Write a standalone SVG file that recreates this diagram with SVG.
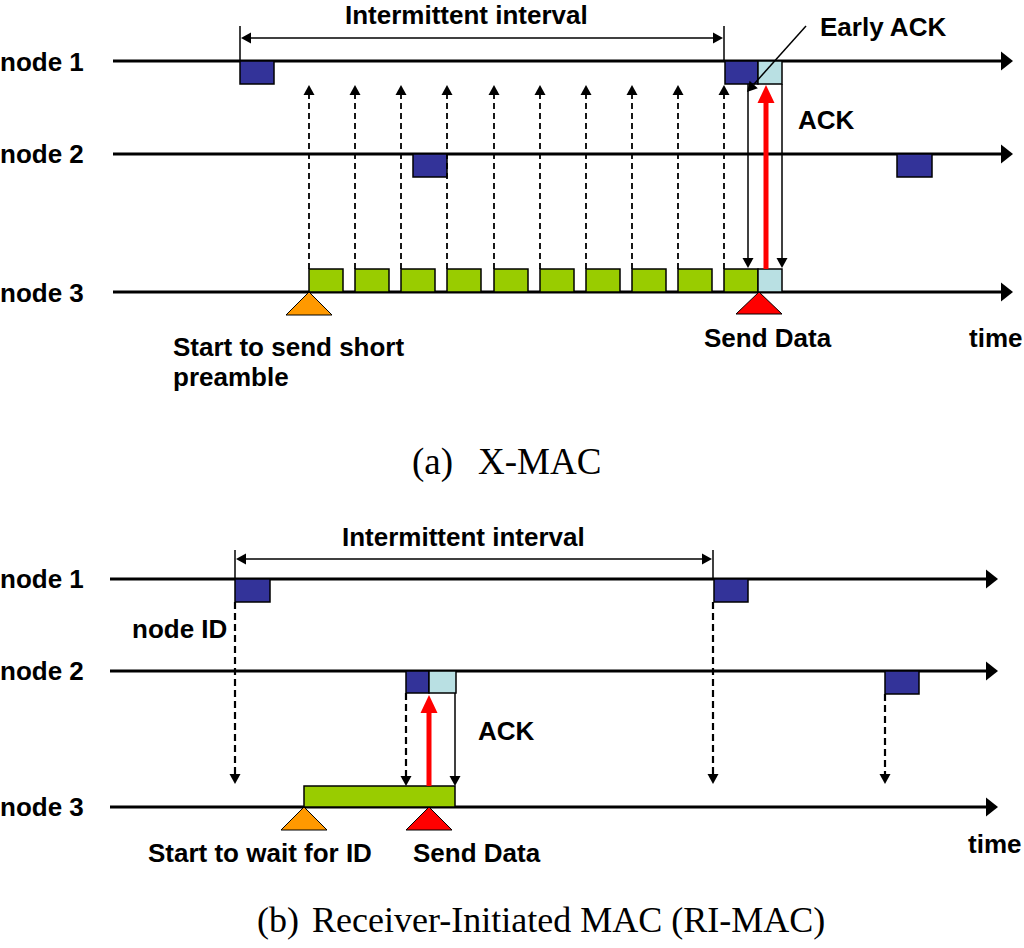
<svg xmlns="http://www.w3.org/2000/svg" width="1024" height="948" viewBox="0 0 1024 948">
<style>
.lbl{font-family:"Liberation Sans",Arial,sans-serif;font-weight:bold;font-size:26px;fill:#000}
.cap{font-family:"Liberation Serif","Times New Roman",serif;font-size:37px;fill:#000}
.capb{font-family:"Liberation Serif","Times New Roman",serif;font-size:36px;fill:#000}
.tl{stroke:#000;stroke-width:3.2;fill:none}
.thin{stroke:#000;stroke-width:1.5;fill:none}
.dash{stroke:#000;stroke-width:1.8;fill:none;stroke-dasharray:6,4}
.dashb{stroke:#000;stroke-width:2.2;fill:none;stroke-dasharray:7,4}
.red{stroke:#ff0000;stroke-width:5;fill:none}
.blue{fill:#333399;stroke:#000;stroke-width:1.5}
.lb{fill:#b9e0e3;stroke:#000;stroke-width:1.5}
.grn{fill:#99cc00;stroke:#000;stroke-width:1.5}
.org{fill:#ff9900;stroke:#000;stroke-width:1}
.rtri{fill:#ff0000;stroke:#000;stroke-width:1}
</style>
<defs>
<marker id="big" markerUnits="userSpaceOnUse" markerWidth="12" markerHeight="19" refX="0" refY="9.5" orient="auto" overflow="visible"><path d="M0,0 L12,9.5 L0,19 z" fill="#000"/></marker>
<marker id="sm" markerUnits="userSpaceOnUse" markerWidth="10" markerHeight="11" refX="0" refY="5.5" orient="auto-start-reverse" overflow="visible"><path d="M0,0 L10,5.5 L0,11 z" fill="#000"/></marker>
</defs>

<!-- (a) X-MAC -->
<g id="a-node1">
<text class="lbl" x="0" y="71">node 1</text>
<line class="tl" x1="113" y1="61" x2="1001" y2="61" marker-end="url(#big)"/>
<rect class="blue" x="240" y="61" width="34" height="23"/>
<rect class="blue" x="725" y="61" width="33" height="23"/>
<rect class="lb" x="758" y="61" width="24" height="23"/>
</g>
<g id="a-node2">
<text class="lbl" x="0" y="163">node 2</text>
<line class="tl" x1="113" y1="154" x2="1001" y2="154" marker-end="url(#big)"/>
<rect class="blue" x="413" y="154" width="34" height="23"/>
<rect class="blue" x="897" y="154" width="35" height="23"/>
</g>
<g id="a-node3">
<text class="lbl" x="0" y="302">node 3</text>
<line class="tl" x1="113" y1="292" x2="1001" y2="292" marker-end="url(#big)"/>
<rect class="grn" x="309" y="269" width="34" height="23"/>
<rect class="grn" x="355" y="269" width="34" height="23"/>
<rect class="grn" x="401" y="269" width="34" height="23"/>
<rect class="grn" x="447" y="269" width="34" height="23"/>
<rect class="grn" x="494" y="269" width="34" height="23"/>
<rect class="grn" x="540" y="269" width="34" height="23"/>
<rect class="grn" x="586" y="269" width="34" height="23"/>
<rect class="grn" x="632" y="269" width="34" height="23"/>
<rect class="grn" x="678" y="269" width="34" height="23"/>
<rect class="grn" x="724" y="269" width="34" height="23"/>
<rect class="lb" x="758" y="269" width="24" height="23"/>
<polygon class="org" points="309,292 286,315 332,315"/>
<polygon class="rtri" points="759,292 736,314 782,314"/>
</g>
<g id="a-labels">
<text class="lbl" x="345" y="24">Intermittent interval</text>
<text class="lbl" x="820" y="36">Early ACK</text>
<text class="lbl" x="798" y="129">ACK</text>
<text class="lbl" x="704" y="347">Send Data</text>
<text class="lbl" x="969" y="347">time</text>
<text class="lbl" x="173" y="356">Start to send short</text>
<text class="lbl" x="173" y="386">preamble</text>
<text class="cap" x="412" y="474">(a) <tspan x="478">X-MAC</tspan></text>
</g>
<g id="a-connectors">
<line class="thin" x1="240" y1="26" x2="240" y2="61"/>
<line class="thin" x1="724" y1="26" x2="724" y2="61"/>
<line class="thin" x1="251" y1="38" x2="713" y2="38" marker-start="url(#sm)" marker-end="url(#sm)"/>
<line class="dash" x1="309" y1="269" x2="309" y2="95" marker-end="url(#sm)"/>
<line class="dash" x1="355" y1="269" x2="355" y2="95" marker-end="url(#sm)"/>
<line class="dash" x1="401" y1="269" x2="401" y2="95" marker-end="url(#sm)"/>
<line class="dash" x1="447" y1="269" x2="447" y2="95" marker-end="url(#sm)"/>
<line class="dash" x1="494" y1="269" x2="494" y2="95" marker-end="url(#sm)"/>
<line class="dash" x1="540" y1="269" x2="540" y2="95" marker-end="url(#sm)"/>
<line class="dash" x1="586" y1="269" x2="586" y2="95" marker-end="url(#sm)"/>
<line class="dash" x1="632" y1="269" x2="632" y2="95" marker-end="url(#sm)"/>
<line class="dash" x1="678" y1="269" x2="678" y2="95" marker-end="url(#sm)"/>
<line class="dash" x1="724" y1="269" x2="724" y2="95" marker-end="url(#sm)"/>
<line class="thin" x1="748" y1="84" x2="748" y2="258" marker-end="url(#sm)"/>
<line class="thin" x1="782" y1="84" x2="782" y2="258" marker-end="url(#sm)"/>
<line class="red" x1="766" y1="269" x2="766" y2="102"/>
<polygon points="757.5,103 766,85 774.5,103" fill="#ff0000"/>
<line class="thin" x1="806" y1="26" x2="753.7" y2="84.5" marker-end="url(#sm)"/>
</g>

<!-- (b) RI-MAC -->
<g id="b-node1">
<text class="lbl" x="0" y="588">node 1</text>
<line class="tl" x1="110" y1="579" x2="986" y2="579" marker-end="url(#big)"/>
<rect class="blue" x="235" y="579" width="35" height="23"/>
<rect class="blue" x="714" y="579" width="34" height="23"/>
</g>
<g id="b-node2">
<text class="lbl" x="0" y="680">node 2</text>
<line class="tl" x1="110" y1="671" x2="986" y2="671" marker-end="url(#big)"/>
<rect class="blue" x="406" y="671" width="23" height="22"/>
<rect class="lb" x="429" y="671" width="27" height="22"/>
<rect class="blue" x="885" y="671" width="34" height="23"/>
</g>
<g id="b-node3">
<text class="lbl" x="0" y="816">node 3</text>
<line class="tl" x1="110" y1="807" x2="986" y2="807" marker-end="url(#big)"/>
<rect class="grn" x="304" y="786" width="151" height="21"/>
<polygon class="org" points="304,807 281,830 327,830"/>
<polygon class="rtri" points="429,807 406,830 452,830"/>
</g>
<g id="b-labels">
<text class="lbl" x="342" y="546">Intermittent interval</text>
<text class="lbl" x="132" y="638">node ID</text>
<text class="lbl" x="478" y="740">ACK</text>
<text class="lbl" x="148" y="862">Start to wait for ID</text>
<text class="lbl" x="413" y="862">Send Data</text>
<text class="lbl" x="968" y="853">time</text>
<text class="capb" x="257" y="932">(b) <tspan x="312">Receiver-Initiated MAC (RI-MAC)</tspan></text>
</g>
<g id="b-connectors">
<line class="thin" x1="235" y1="550" x2="235" y2="579"/>
<line class="thin" x1="713" y1="550" x2="713" y2="579"/>
<line class="thin" x1="246" y1="559" x2="702" y2="559" marker-start="url(#sm)" marker-end="url(#sm)"/>
<line class="dashb" x1="235" y1="602" x2="235" y2="774" marker-end="url(#sm)"/>
<line class="dashb" x1="713" y1="602" x2="713" y2="774" marker-end="url(#sm)"/>
<line class="dashb" x1="885" y1="694" x2="885" y2="774" marker-end="url(#sm)"/>
<line class="dashb" x1="406" y1="693" x2="406" y2="776" marker-end="url(#sm)"/>
<line class="thin" x1="455" y1="693" x2="455" y2="776" marker-end="url(#sm)"/>
<line class="red" x1="429" y1="786" x2="429" y2="712"/>
<polygon points="420.5,713 429,695 437.5,713" fill="#ff0000"/>
</g>
</svg>
